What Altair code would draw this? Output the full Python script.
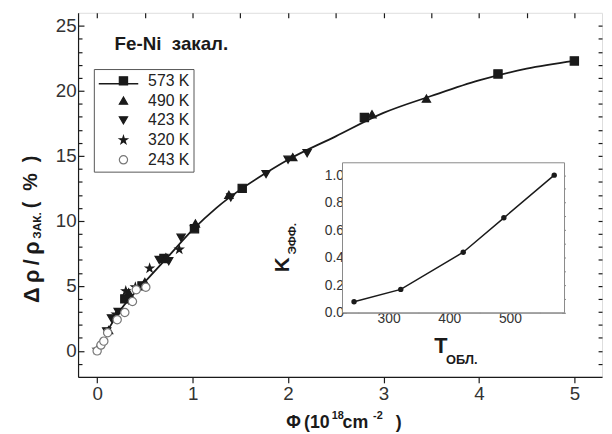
import altair as alt
import pandas as pd

FONT = "Liberation Sans"
INK = "#1a1a1a"
NB = "\u00a0"
TH = "\u2009"

# ---------------- data ----------------
temps = ["573 K", "490 K", "423 K", "320 K", "243 K"]

fit_phi = [0.08, 0.25, 0.5, 0.75, 1.0, 1.25, 1.5, 1.75, 2.0, 2.5, 3.0, 3.5, 4.0, 4.5, 5.0]
fit_drho = [1.2, 3.2, 5.3, 7.3, 9.3, 11.0, 12.4, 13.6, 14.7, 16.5, 18.3, 19.6, 20.8, 21.7, 22.3]

t573_phi = [0.29, 0.47, 0.70, 1.02, 1.52, 2.80, 4.20, 5.00]
t573_drho = [4.0, 5.0, 7.1, 9.4, 12.5, 17.95, 21.3, 22.3]

t490_phi = [0.12, 0.33, 0.50, 0.72, 1.03, 1.38, 2.05, 2.88, 3.45]
t490_drho = [1.6, 4.5, 5.3, 7.2, 9.8, 12.0, 14.9, 18.2, 19.4]

t423_phi = [0.10, 0.15, 0.22, 0.33, 0.65, 0.75, 0.88, 1.40, 1.77, 2.00, 2.20]
t423_drho = [1.5, 2.5, 3.0, 3.9, 7.0, 6.9, 8.7, 11.8, 13.6, 14.7, 15.2]

t320_phi = [0.00, 0.20, 0.30, 0.40, 0.55, 0.86, 1.02]
t320_drho = [0.1, 2.8, 4.6, 4.9, 6.35, 7.8, 9.5]

t243_phi = [0.00, 0.04, 0.07, 0.11, 0.21, 0.29, 0.37, 0.41, 0.51]
t243_drho = [0.0, 0.45, 0.75, 1.4, 2.4, 2.95, 3.8, 4.7, 4.9]

inset_T = [243, 320, 423, 490, 573]
inset_K = [0.08, 0.17, 0.44, 0.69, 1.00]

main_x_ticks = [0, 0.5, 1, 1.5, 2, 2.5, 3, 3.5, 4, 4.5, 5]
main_y_ticks = list(range(-1, 26))
inset_x_ticks = [250, 300, 350, 400, 450, 500, 550]
inset_y_ticks = [0.0, 0.1, 0.2, 0.3, 0.4, 0.5, 0.6, 0.7, 0.8, 0.9, 1.0]

# ---------------- tables ----------------
fit_df = pd.DataFrame({"phi": fit_phi, "drho": fit_drho})
rows = []
for lab, xs, ys in [("573 K", t573_phi, t573_drho), ("490 K", t490_phi, t490_drho),
                    ("423 K", t423_phi, t423_drho), ("320 K", t320_phi, t320_drho),
                    ("243 K", t243_phi, t243_drho)]:
    for a, b in zip(xs, ys):
        rows.append({"T": lab, "phi": a, "drho": b})
pts_df = pd.DataFrame(rows)
inset_df = pd.DataFrame({"T": inset_T, "K": inset_K})
dummy = pd.DataFrame({"a": [0]})

W, H = 531, 369
xs_main = alt.Scale(domain=[-0.2, 5.29], nice=False, zero=False)
ys_main = alt.Scale(domain=[-2, 26], nice=False, zero=False)
xs_in = alt.Scale(domain=[224, 590], nice=False, zero=False, range=[268, 493])
ys_in = alt.Scale(domain=[0, 1.09], nice=False, zero=False, range=[304, 152])

STAR = ("M0,-1L0.2245,-0.309L0.951,-0.309L0.363,0.118L0.588,0.809L0,0.382"
        "L-0.588,0.809L-0.363,0.118L-0.951,-0.309L-0.2245,-0.309Z")

axis_common = dict(grid=False, title=None, labelFont=FONT, labelColor="#333",
                   domainColor=INK, tickColor=INK, domainWidth=1.2, tickWidth=1.2)

x_main_axis = alt.Axis(orient="bottom", values=main_x_ticks, labelFontSize=19, format="d",
                       labelExpr="datum.value % 1 === 0 ? datum.label : ''",
                       tickSize={"condition": {"test": "datum.value % 1 === 0", "value": 6}, "value": 4},
                       labelPadding=2, labelFlush=False, **axis_common)
y_main_axis = alt.Axis(orient="left", values=main_y_ticks, labelFontSize=19, format="d",
                       labelExpr="datum.value % 5 === 0 ? datum.label : ''",
                       tickSize={"condition": {"test": "datum.value % 5 === 0", "value": -6}, "value": -4},
                       labelPadding=8, labelFlush=False, **axis_common)

fit_line = alt.Chart(fit_df).mark_line(color=INK, strokeWidth=1.8, interpolate="monotone").encode(
    x=alt.X("phi:Q", scale=xs_main, axis=x_main_axis),
    y=alt.Y("drho:Q", scale=ys_main, axis=y_main_axis),
)

# mirrored ticks on top and right of the main frame
mirror = alt.Chart(fit_df).mark_line(opacity=0).encode(
    x=alt.X("phi:Q", scale=xs_main,
            axis=alt.Axis(orient="top", values=main_x_ticks, labels=False, domain=False,
                          tickSize={"expr": "-5"}, grid=False, title=None, tickColor=INK, tickWidth=1.2)),
    y=alt.Y("drho:Q", scale=ys_main,
            axis=alt.Axis(orient="right", values=main_y_ticks, labels=False, domain=False,
                          tickSize={"expr": "-4"}, grid=False, title=None, tickColor=INK, tickWidth=1.2)),
)

leg = alt.Legend(title=None, orient="none", legendX=16, legendY=57, strokeColor="#555",
                 padding=4, labelFont=FONT, labelFontSize=16, labelColor="#222",
                 symbolSize=70, rowPadding=4, symbolOffset=18, labelOffset=17,
                 symbolStrokeWidth=1.2)

points = alt.Chart(pts_df).mark_point(size=70, strokeWidth=1.2, opacity=1).encode(
    x=alt.X("phi:Q", scale=xs_main, axis=None),
    y=alt.Y("drho:Q", scale=ys_main, axis=None),
    shape=alt.Shape("T:N", sort=temps, legend=leg,
                    scale=alt.Scale(domain=temps, range=["square", "triangle-up", "triangle-down", STAR, "circle"])),
    fill=alt.Fill("T:N", sort=temps, legend=leg,
                  scale=alt.Scale(domain=temps, range=[INK, INK, INK, INK, "white"])),
    stroke=alt.Stroke("T:N", sort=temps, legend=leg,
                      scale=alt.Scale(domain=temps, range=[INK, INK, INK, INK, "#777"])),
)

legend_line = alt.Chart(dummy).mark_rule(color=INK, strokeWidth=1.5).encode(
    x=alt.value(21), x2=alt.value(61), y=alt.value(72))

# ---------------- inset ----------------
inset_frame = alt.Chart(dummy).mark_rect(fill="white", stroke="#888", strokeWidth=1).encode(
    x=alt.value(268), x2=alt.value(493), y=alt.value(152), y2=alt.value(304))

in_common = dict(grid=False, title=None, labelFont=FONT, labelColor="#333", labelFontSize=14,
                 domainColor="#888", tickColor="#888", tickWidth=1)

inset_line = alt.Chart(inset_df).mark_line(color=INK, strokeWidth=1.5).encode(
    x=alt.X("T:Q", scale=xs_in,
            axis=alt.Axis(orient="bottom", offset=-65, values=inset_x_ticks,
                          labelExpr="datum.value % 100 === 0 ? datum.label : ''",
                          tickSize={"expr": "-4"}, labelPadding=3, **in_common)),
    y=alt.Y("K:Q", scale=ys_in,
            axis=alt.Axis(orient="left", offset=-268, values=inset_y_ticks, format=".1f",
                          labelExpr="abs(round(datum.value * 10)) % 2 === 0 ? datum.label : ''",
                          tickSize={"expr": "-4"}, labelPadding=3, **in_common)),
)
inset_mirror = alt.Chart(inset_df).mark_line(opacity=0).encode(
    x=alt.X("T:Q", scale=xs_in,
            axis=alt.Axis(orient="top", offset=-152, values=inset_x_ticks, labels=False, domain=False,
                          tickSize={"expr": "-4"}, grid=False, title=None, tickColor="#888")),
    y=alt.Y("K:Q", scale=ys_in,
            axis=alt.Axis(orient="right", offset=-37, values=inset_y_ticks, labels=False, domain=False,
                          tickSize={"expr": "-4"}, grid=False, title=None, tickColor="#888")),
)
inset_pts = alt.Chart(inset_df).mark_circle(size=30, color=INK, opacity=1).encode(
    x=alt.X("T:Q", scale=xs_in, axis=None),
    y=alt.Y("K:Q", scale=ys_in, axis=None),
)


def txt(s, x, y, size, angle=0, weight="bold"):
    return alt.Chart(dummy).mark_text(text=s, align="left", baseline="middle", angle=angle,
                                      font=FONT, fontSize=size, fontWeight=weight, color=INK).encode(
        x=alt.value(x), y=alt.value(y))


texts = [
    txt("Fe-Ni" + NB + NB + "закал.", 37, 32, 19),
    txt("Δ" + TH + "ρ" + TH + "/" + TH + "ρ", -47, 294, 22, angle=270),
    txt("ЗАК.", -42, 229, 12, angle=270),
    txt("(" + NB + NB + "%" + NB + NB + ")", -48, 198, 20, angle=270),
    txt("Φ", 211, 416, 18),
    txt("(10", 229, 416, 18),
    txt("18", 257, 409, 11),
    txt("cm", 268, 416, 18),
    txt("-2", 299, 409, 11),
    txt(")", 322, 416, 18),
    txt("K", 208, 263, 21, angle=270),
    txt("ЭФФ.", 217, 245, 12, angle=270),
    txt("T", 361, 338, 22),
    txt("ОБЛ.", 373, 352, 13),
]

chart = alt.layer(
    inset_frame, fit_line, mirror, points, legend_line,
    inset_line, inset_mirror, inset_pts, *texts
).resolve_scale(x="independent", y="independent").resolve_axis(
    x="independent", y="independent"
).properties(
    width=W, height=H, autosize=alt.AutoSizeParams(type="none"),
    padding={"left": 71, "top": 2, "right": 2, "bottom": 55},
).configure_view(stroke=INK, strokeWidth=1.2).configure(background="white")

chart.save("out.html", embed_options={"renderer": "svg", "actions": False})
